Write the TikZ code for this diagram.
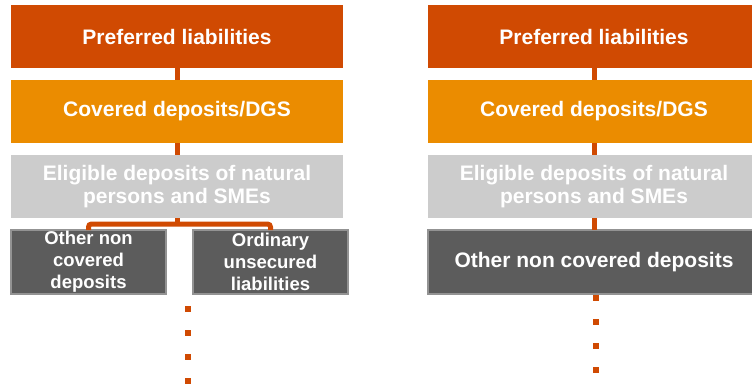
\documentclass[tikz,border=0pt]{standalone}
\usepackage{fontspec}
\setmainfont{Liberation Sans}
\definecolor{cPref}{HTML}{D04A02}
\definecolor{cCov}{HTML}{EB8C00}
\definecolor{cElig}{HTML}{CCCCCC}
\definecolor{cDark}{HTML}{5C5C5C}
\definecolor{cEdge}{HTML}{939393}
\tikzset{
  tier/.style={inner sep=0pt, outer sep=0pt, text=white, align=center,
    font=\bfseries\fontsize{21}{23}\selectfont},
  bigbox/.style={tier, minimum width=332pt, minimum height=63pt},
  darkbox/.style={tier, fill=cDark, draw=cEdge, line width=1.5pt},
  smallbox/.style={darkbox, minimum width=155pt, minimum height=64pt,
    font=\bfseries\fontsize{18.5}{22}\selectfont},
  conn/.style={draw=cPref, line width=5pt},
  dotline/.style={draw=cPref, line width=6pt, dash pattern=on 6pt off 18pt}
}
\begin{document}
\begin{tikzpicture}[x=1pt, y=-1pt]
\useasboundingbox (0,0) rectangle (752,384);
\clip (0,0) rectangle (752,384);
% left column
\node[bigbox, fill=cPref] (p1) at (177,36.5) {Preferred liabilities};
\node[bigbox, fill=cCov] (p2) at (177,111.5) {Covered deposits/DGS};
\node[bigbox, fill=cElig] (p3) at (177,186.5) {Eligible deposits of natural\\persons and SMEs};
\node[smallbox] (o1) at (88.5,262) {Other non\\covered\\deposits};
\node[smallbox] (o2) at (270.5,262) {Ordinary\\unsecured\\liabilities};
\draw[conn] (p1.south) -- (p2.north);
\draw[conn] (p2.south) -- (p3.north);
\draw[conn, rounded corners=3pt] (o1.north) -- ++(0,-6) -| (o2.north);
\draw[conn] (p3.south) -- ++(0,6);
\coordinate (l1) at (188,306);
\coordinate (l2) at (188,384);
\draw[dotline] (l1) -- (l2);
% right column
\node[bigbox, fill=cPref] (q1) at (594,36.5) {Preferred liabilities};
\node[bigbox, fill=cCov] (q2) at (594,111.5) {Covered deposits/DGS};
\node[bigbox, fill=cElig] (q3) at (594,186.5) {Eligible deposits of natural\\persons and SMEs};
\node[darkbox, minimum width=332pt, minimum height=64pt] (q4) at (594,262) {Other non covered deposits};
\draw[conn] (q1.south) -- (q2.north);
\draw[conn] (q2.south) -- (q3.north);
\draw[conn] (q3.south) -- (q4.north);
\coordinate (r1) at (596,295);
\coordinate (r2) at (596,384);
\draw[dotline] (r1) -- (r2);
\end{tikzpicture}
\end{document}
